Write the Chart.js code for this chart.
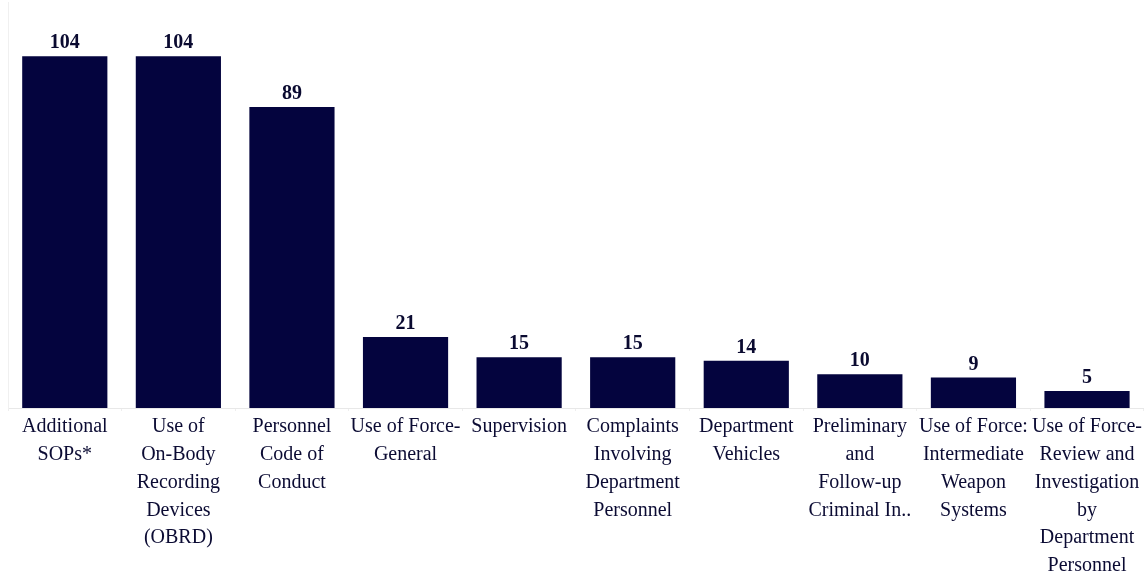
<!DOCTYPE html>
<html>
<head>
<meta charset="utf-8">
<script src="https://cdn.jsdelivr.net/npm/chart.js@4"></script>
<style>
  html, body { margin: 0; padding: 0; background: #fff; }
  #wrap { width: 1144px; height: 575px; }
</style>
</head>
<body>
<div id="wrap"><canvas id="chart"></canvas></div>
<script>
const categories = [
  ["Additional", "SOPs*"],
  ["Use of", "On-Body", "Recording", "Devices", "(OBRD)"],
  ["Personnel", "Code of", "Conduct"],
  ["Use of Force-", "General"],
  ["Supervision"],
  ["Complaints", "Involving", "Department", "Personnel"],
  ["Department", "Vehicles"],
  ["Preliminary", "and", "Follow-up", "Criminal In.."],
  ["Use of Force:", "Intermediate", "Weapon", "Systems"],
  ["Use of Force-", "Review and", "Investigation", "by", "Department", "Personnel"]
];
const counts = [104, 104, 89, 21, 15, 15, 14, 10, 9, 5];

const navy = "#04043e";
const serif = "'Liberation Serif', 'Times New Roman', serif";

// numbers above each bar
const valueLabels = {
  id: "valueLabels",
  afterDatasetsDraw(chart) {
    const c = chart.ctx;
    const meta = chart.getDatasetMeta(0);
    c.save();
    c.font = "bold 20px " + serif;
    c.fillStyle = "#0a0a30";
    c.textAlign = "center";
    c.textBaseline = "alphabetic";
    meta.data.forEach((bar, i) => {
      c.fillText(counts[i], bar.x, bar.y - 8);
    });
    c.restore();
  }
};

new Chart(document.getElementById("chart"), {
  type: "bar",
  data: {
    labels: categories,
    datasets: [{
      data: counts,
      backgroundColor: navy,
      barPercentage: 0.75,
      categoryPercentage: 1.0
    }]
  },
  options: {
    responsive: true,
    maintainAspectRatio: false,
    animation: false,
    layout: { padding: { left: 0, right: 0, top: 2, bottom: 0 } },
    plugins: { legend: { display: false }, tooltip: { enabled: false } },
    scales: {
      x: {
        grid: { display: true, drawOnChartArea: false, tickLength: 3, color: "#eeeeee" },
        border: { color: "#e8e8e8" },
        afterFit(scale) { scale.height = 167; },
        ticks: {
          maxRotation: 0,
          autoSkip: false,
          padding: 2,
          color: "#0b0b33",
          font: { family: serif, size: 20, lineHeight: 1.39 }
        }
      },
      y: {
        min: 0,
        max: 120,
        grid: { display: false },
        border: { color: "#f0f0f0" },
        ticks: { display: false }
      }
    }
  },
  plugins: [valueLabels]
});
</script>
</body>
</html>
